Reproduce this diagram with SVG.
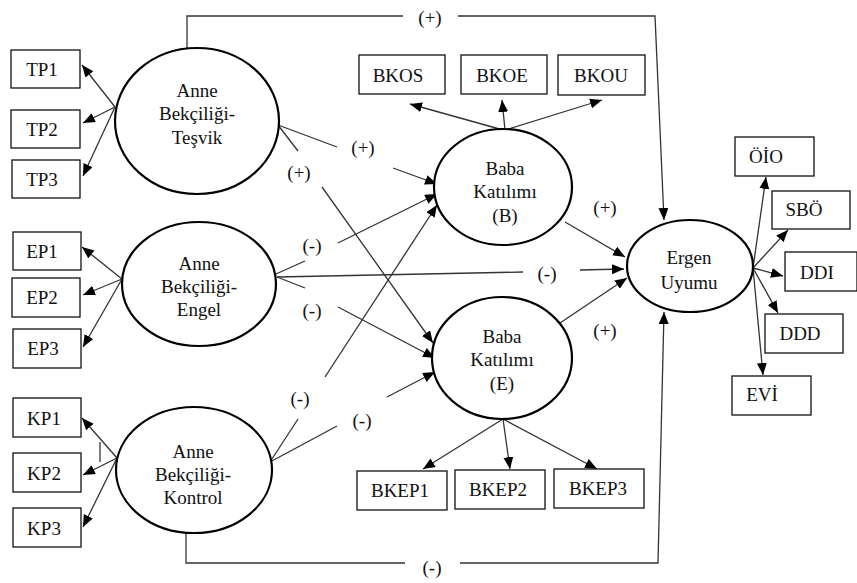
<svg xmlns="http://www.w3.org/2000/svg" width="857" height="583" viewBox="0 0 857 583">
<defs>
<marker id="ah" markerUnits="userSpaceOnUse" markerWidth="13" markerHeight="11" refX="12" refY="5" orient="auto">
<path d="M0,0 L12,5 L0,10 z" fill="#000"/>
</marker>
<style>
text{font-family:"Liberation Serif","Times New Roman",serif;font-size:19px;fill:#111;text-anchor:middle;dominant-baseline:central}
.box{fill:#fff;stroke:#111;stroke-width:1.3}
.ell{fill:#fff;stroke:#000;stroke-width:2.2}
.c{fill:none;stroke:#333;stroke-width:1.3}
.a{fill:none;stroke:#333;stroke-width:1.3;marker-end:url(#ah)}
</style>
</defs>
<rect width="857" height="583" fill="#fff"/>
<g id="connectors">
<polyline class="c" points="187,48 187,16 403,16"/>
<polyline class="a" points="458,16 655,16 664,220"/>
<polyline class="c" points="186,532 186,563 405,563"/>
<polyline class="a" points="460,563 658,563 664,312"/>
<line class="a" x1="115" y1="107" x2="82" y2="65"/>
<line class="a" x1="115" y1="107" x2="83" y2="123"/>
<line class="a" x1="115" y1="107" x2="83" y2="176"/>
<line class="a" x1="122" y1="279" x2="82" y2="247"/>
<line class="a" x1="122" y1="279" x2="83" y2="295"/>
<line class="a" x1="122" y1="279" x2="83" y2="347"/>
<line class="a" x1="117" y1="458" x2="82" y2="418"/>
<line class="a" x1="117" y1="458" x2="83" y2="475"/>
<line class="a" x1="117" y1="458" x2="83" y2="527"/>
<line class="c" x1="100" y1="442" x2="100" y2="462"/>
<line class="a" x1="503" y1="130" x2="410" y2="104"/>
<line class="a" x1="505" y1="130" x2="502" y2="100"/>
<line class="a" x1="505" y1="130" x2="602" y2="100"/>
<line class="a" x1="503" y1="419" x2="423" y2="469"/>
<line class="a" x1="503" y1="419" x2="510" y2="469"/>
<line class="a" x1="503" y1="419" x2="597" y2="469"/>
<line class="a" x1="753" y1="268" x2="766" y2="177"/>
<line class="a" x1="753" y1="268" x2="788" y2="230"/>
<line class="a" x1="753" y1="268" x2="783" y2="276"/>
<line class="a" x1="753" y1="268" x2="778" y2="313"/>
<line class="a" x1="753" y1="268" x2="763" y2="375"/>
<line class="c" x1="278" y1="125" x2="337" y2="147"/>
<line class="a" x1="393" y1="168" x2="437" y2="184"/>
<line class="c" x1="278" y1="125" x2="298" y2="151"/>
<line class="a" x1="322" y1="187" x2="433" y2="343"/>
<line class="c" x1="276" y1="274" x2="305" y2="261"/>
<line class="a" x1="338" y1="243" x2="437" y2="194"/>
<line class="c" x1="277" y1="277" x2="523" y2="272"/>
<line class="a" x1="580" y1="270" x2="624" y2="269"/>
<line class="c" x1="277" y1="277" x2="305" y2="288"/>
<line class="a" x1="338" y1="307" x2="435" y2="358"/>
<line class="c" x1="270" y1="462" x2="298" y2="419"/>
<line class="a" x1="325" y1="377" x2="437" y2="205"/>
<line class="c" x1="270" y1="462" x2="337" y2="426"/>
<line class="a" x1="387" y1="397" x2="435" y2="372"/>
<line class="a" x1="565" y1="222" x2="625" y2="257"/>
<line class="a" x1="560" y1="323" x2="627" y2="278"/>
<text x="430" y="17">(+)</text>
<text x="432" y="567">(-)</text>
<text x="363" y="147">(+)</text>
<text x="299" y="172">(+)</text>
<text x="312" y="245">(-)</text>
<text x="547" y="273">(-)</text>
<text x="312" y="310">(-)</text>
<text x="300" y="398">(-)</text>
<text x="362" y="420">(-)</text>
<text x="605" y="207">(+)</text>
<text x="605" y="330">(+)</text>
</g>
<g id="anne-tesvik"><ellipse class="ell" cx="197" cy="121" rx="82" ry="73"/>
<text x="197" y="90">Anne</text><text x="197" y="113">Bekçiliği-</text><text x="197" y="137">Teşvik</text></g>
<g id="anne-engel"><ellipse class="ell" cx="199" cy="284" rx="77" ry="62"/>
<text x="199" y="263">Anne</text><text x="199" y="286">Bekçiliği-</text><text x="199" y="309">Engel</text></g>
<g id="anne-kontrol"><ellipse class="ell" cx="194" cy="470" rx="78" ry="63"/>
<text x="193" y="451">Anne</text><text x="193" y="474">Bekçiliği-</text><text x="193" y="497">Kontrol</text></g>
<g id="baba-b"><ellipse class="ell" cx="503" cy="187" rx="69" ry="58"/>
<text x="505" y="168">Baba</text><text x="505" y="191">Katılımı</text><text x="505" y="215">(B)</text></g>
<g id="baba-e"><ellipse class="ell" cx="502" cy="358" rx="70" ry="61"/>
<text x="502" y="336">Baba</text><text x="502" y="359">Katılımı</text><text x="502" y="383">(E)</text></g>
<g id="ergen"><ellipse class="ell" cx="690" cy="266" rx="63" ry="46"/>
<text x="689" y="257">Ergen</text><text x="689" y="282">Uyumu</text></g>
<g id="tp1"><rect class="box" x="11" y="50" width="69" height="38"/><text x="42" y="69">TP1</text></g>
<g id="tp2"><rect class="box" x="11" y="110" width="69" height="38"/><text x="42" y="129">TP2</text></g>
<g id="tp3"><rect class="box" x="12" y="160" width="68" height="38"/><text x="42" y="179">TP3</text></g>
<g id="ep1"><rect class="box" x="13" y="232" width="68" height="38"/><text x="42" y="251">EP1</text></g>
<g id="ep2"><rect class="box" x="12" y="278" width="68" height="39"/><text x="42" y="297">EP2</text></g>
<g id="ep3"><rect class="box" x="13" y="329" width="68" height="39"/><text x="43" y="348">EP3</text></g>
<g id="kp1"><rect class="box" x="13" y="398" width="68" height="39"/><text x="44" y="418">KP1</text></g>
<g id="kp2"><rect class="box" x="13" y="453" width="68" height="39"/><text x="44" y="473">KP2</text></g>
<g id="kp3"><rect class="box" x="13" y="508" width="68" height="39"/><text x="44" y="528">KP3</text></g>
<g id="bkos"><rect class="box" x="359" y="55" width="86" height="39"/><text x="398" y="75">BKOS</text></g>
<g id="bkoe"><rect class="box" x="461" y="55" width="86" height="39"/><text x="502" y="75">BKOE</text></g>
<g id="bkou"><rect class="box" x="558" y="55" width="87" height="40"/><text x="601" y="75">BKOU</text></g>
<g id="bkep1"><rect class="box" x="357" y="471" width="90" height="39"/><text x="400" y="490">BKEP1</text></g>
<g id="bkep2"><rect class="box" x="455" y="470" width="90" height="39"/><text x="498" y="489">BKEP2</text></g>
<g id="bkep3"><rect class="box" x="554" y="469" width="90" height="39"/><text x="598" y="488">BKEP3</text></g>
<g id="oio"><rect class="box" x="735" y="137" width="79" height="39"/><text x="766" y="156">ÖİO</text></g>
<g id="sbo"><rect class="box" x="772" y="191" width="78" height="38"/><text x="804" y="209">SBÖ</text></g>
<g id="ddi"><rect class="box" x="785" y="252" width="72" height="39"/><text x="817" y="272">DDI</text></g>
<g id="ddd"><rect class="box" x="765" y="314" width="78" height="39"/><text x="800" y="333">DDD</text></g>
<g id="evi"><rect class="box" x="732" y="376" width="79" height="39"/><text x="762" y="394">EVİ</text></g>
</svg>
